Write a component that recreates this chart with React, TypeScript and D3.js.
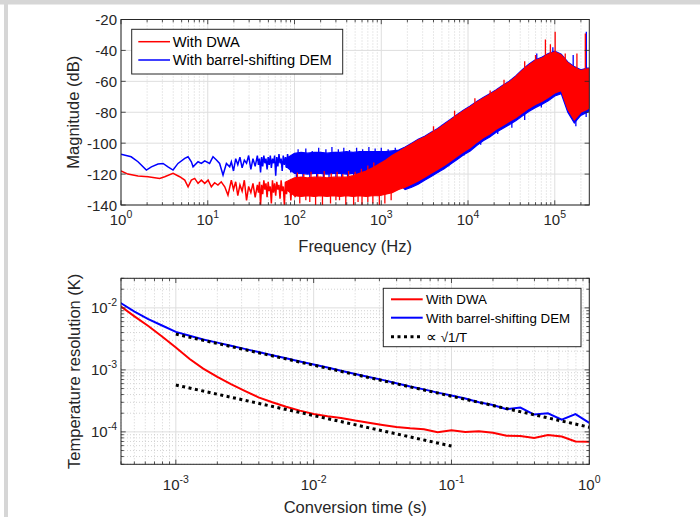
import React from "react";
import * as d3 from "d3";

// ---------- Top chart (spectrum) data ----------
const blueLowHz = [1, 1.31, 1.57, 1.96, 2.24, 2.67, 3.05, 3.48, 3.98, 4.54, 5.43, 5.93, 6.47, 6.77, 7.73, 8.44, 9.23, 10.5, 11.5, 12.6, 13.7, 15.0, 16.4, 17.9];
const blueLowDb = [-107.2, -108.8, -112.0, -117.4, -115.3, -113.5, -113.1, -115.3, -117.4, -113.1, -109.8, -108.8, -112.0, -115.3, -112.0, -113.1, -111.4, -113.1, -108.8, -110.9, -113.1, -120.6, -113.1, -115.3];
const redLowHz = [1, 1.2, 1.57, 2.05, 2.79, 3.19, 3.98, 4.75, 5.43, 5.93, 6.47, 7.07, 7.73, 8.44, 9.23, 10.1, 11.0, 12.0, 13.1, 14.3, 15.7, 17.1];
const redLowDb = [-117.9, -120, -121.3, -121.7, -122.8, -121.7, -119.5, -121.7, -123.9, -128.2, -123.9, -122.8, -126, -123.9, -126, -123.9, -128.2, -125.6, -127.1, -125, -128.2, -133.6];

const noiseHz = [18.7, 19.8, 21, 22.2, 23.5, 24.9, 26.4, 28, 29.6, 31.4, 33.2, 35.2, 37.3, 38.4, 39.5, 40.6, 41.8, 43, 44.3, 45.6, 46.9, 48.3, 49.7, 51.1, 52.6, 54.1, 55.7, 57.3, 59, 60.7, 62.5, 64.3, 66.2, 68.1, 70.1, 72.1, 74.2, 76.4, 78.6, 80.9, 83.2, 85.6, 88.1, 90.7, 93.3, 96, 98.8, 101.7, 104.6, 107.6, 110.8];
const blueNoiseDb = [-112, -118, -110, -114, -109, -116, -111, -113, -108, -117, -110, -115, -108, -114, -110, -119, -109, -115, -108, -113, -110, -117, -109, -114, -108, -116, -110, -113, -108, -121, -109, -115, -107, -113, -110, -118, -108, -114, -109, -116, -107, -112, -110, -119, -108, -114, -107, -117, -109, -115, -110];
const redNoiseDb = [-124, -130, -125, -134, -127, -131, -124, -137, -128, -132, -126, -135, -127, -132, -125, -140, -127, -133, -124, -130, -126, -135, -125, -131, -128, -139, -124, -132, -126, -134, -125, -130, -127, -136, -124, -131, -128, -140, -125, -133, -126, -131, -124, -137, -127, -132, -125, -135, -126, -131, -128];

// dense-noise envelope (upper / lower edge of the trace)
const bandHz = [80, 100, 119, 141, 168, 200, 237, 282, 335, 398, 473, 562, 668, 794, 944, 1122, 1334, 1585, 1884, 2239, 2661, 3162, 3758, 4467, 5309, 6310, 7499, 8913, 10593, 12589, 14962, 17783, 21135, 25119, 29854, 35481, 42170, 50119, 59566, 70795, 84140, 100000, 118850, 141254, 167880, 199526, 237137, 250000];
const redUpperDb = [-125, -122.5, -122, -122.5, -122, -122, -122.5, -122, -122, -122, -121, -119.5, -118, -116, -113.5, -111, -108, -105.5, -103, -100.5, -98, -96, -93.5, -91, -88, -85, -82, -79, -76.5, -73.5, -71, -68.5, -66, -63, -60.5, -57, -53, -49.5, -46.5, -45, -42.5, -41, -43, -48, -51, -53, -52, -52];
const redLowerDb = [-130, -134, -134.5, -134, -134.5, -134, -134.5, -134, -134.5, -134, -134.5, -134, -134.5, -134, -134, -133, -132, -130, -128.5, -126.5, -124.5, -122, -119.5, -117, -114.5, -111.5, -108.5, -105.5, -103, -99.5, -96.5, -94, -91, -88.5, -86, -83.5, -80.5, -77.5, -75, -73, -70.5, -67.5, -66, -78, -85, -80, -78, -77];
const blueUpperDb = [-110, -106.5, -106, -106.5, -106, -106, -106.5, -106, -106, -105.5, -106, -105.5, -105.5, -105.5, -105.5, -105.5, -105, -104.5, -102.5, -100, -97.5, -95.5, -93, -90.5, -87.5, -84.5, -81.5, -78.5, -76, -73, -70.5, -68, -65.5, -62.5, -60, -56.5, -52.5, -49, -46, -44.5, -42, -40.5, -42.5, -47.5, -50.5, -52.5, -51.5, -51.5];
const blueLowerDb = [-115, -119.5, -119.5, -120, -119.5, -119.5, -120, -119.5, -119.5, -120, -119.5, -119.5, -119.5, -119.5, -119.5, -119.5, -120, -126, -130, -128.5, -126.5, -124, -121.5, -119, -116.5, -113.5, -110.5, -107.5, -105, -101.5, -98.5, -96, -93, -90.5, -88, -85.5, -82.5, -79.5, -77, -75, -72.5, -69.5, -68, -80, -87, -82, -80, -79];

// individual noise excursions beyond the envelope
const blueSpikeUpHz = [110, 135, 160, 190, 230, 270, 320, 370, 430, 520, 610, 720, 850, 1000, 1200, 1450, 62000, 95000, 163000, 231000];
const blueSpikeUpDb = [-104, -103.5, -105, -103, -104, -102.5, -104, -103, -104.5, -103, -104, -102.5, -103.5, -103, -104, -103, -42, -38, -43, -28];
const blueSpikeDownHz = [105, 125, 150, 180, 215, 250, 300, 350, 410, 480, 560, 650, 760, 900, 1050, 3400, 4500, 6000, 9000, 14000, 22000, 32000, 45000, 70000, 175000, 230000];
const blueSpikeDownDb = [-123, -125, -122, -124, -123, -126, -122, -124, -123, -125, -122, -124, -123, -122, -121, -123, -119, -115, -108, -101, -94, -90, -85, -77, -89, -83];
const redSpikeUpHz = [108, 128, 155, 185, 220, 265, 310, 360, 420, 500, 590, 700, 820, 4000, 7000, 12000, 18000, 26000, 45000, 60000, 78000, 89000, 101000, 132000, 180000, 225000];
const redSpikeUpDb = [-119, -120, -118.5, -120, -118, -119.5, -118.5, -120, -118, -118.5, -116.5, -114.5, -112.5, -89, -79, -71, -66, -59, -47, -43, -33, -36, -28, -42, -42, -29];
const redSpikeDownHz = [115, 135, 150, 175, 210, 260, 300, 330, 390, 480, 540, 600, 700, 800, 950, 1100, 1300];
const redSpikeDownDb = [-139, -137, -138, -140, -140, -139, -137, -137, -140, -140, -138, -140, -138, -139, -140, -139, -137];

const topXTicks = [1, 10, 100, 1000, 10000, 100000];
const topXExp = ["0", "1", "2", "3", "4", "5"];
const topYTicks = [-140, -120, -100, -80, -60, -40, -20];

// ---------- Bottom chart (temperature resolution) data ----------
const convTime = [3.98e-4, 5.01e-4, 6.31e-4, 7.94e-4, 1e-3, 1.26e-3, 1.58e-3, 2.0e-3, 2.51e-3, 3.16e-3, 3.98e-3, 5.01e-3, 6.31e-3, 7.94e-3, 1e-2, 1.26e-2, 1.58e-2, 2.0e-2, 2.51e-2, 3.16e-2, 3.98e-2, 5.01e-2, 6.31e-2, 7.94e-2, 0.1, 0.126, 0.158, 0.2, 0.251, 0.316, 0.398, 0.501, 0.631, 0.794, 1];
const resBlue = [0.0120, 0.0087, 0.0066, 0.0052, 0.0041, 0.00355, 0.0031, 0.00275, 0.00245, 0.00218, 0.00194, 0.00172, 0.00154, 0.00137, 0.00122, 0.00109, 0.00097, 0.00086, 0.00077, 0.00069, 0.00061, 0.00054, 0.000485, 0.00043, 0.000385, 0.000345, 0.0003, 0.000272, 0.000232, 0.000247, 0.00019, 0.0002, 0.000158, 0.000193, 0.00014];
const resRed = [0.0106, 0.0073, 0.0051, 0.00345, 0.0023, 0.0015, 0.00105, 0.00077, 0.00059, 0.00046, 0.00036, 0.0003, 0.000255, 0.00022, 0.000195, 0.000178, 0.000168, 0.000152, 0.00014, 0.000129, 0.00012, 0.000114, 0.00011, 0.000099, 0.000106, 0.0001, 0.000102, 0.000097, 0.000087, 0.000086, 0.00008, 0.000089, 0.000084, 0.00007, 0.000069];
const fitUpperT = [1e-3, 1];
const fitUpperV = [3.77e-3, 1.19e-4];
const fitLowerT = [1e-3, 0.1];
const fitLowerV = [5.7e-4, 5.9e-5];

const botXTicks = [1e-3, 1e-2, 1e-1, 1];
const botXExp = ["-3", "-2", "-1", "0"];
const botYTicks = [1e-4, 1e-3, 1e-2];
const botYExp = ["-4", "-3", "-2"];

// ---------- styles ----------
const FONT = "'Liberation Sans', Arial, Helvetica, sans-serif";
const AX = "#262626";
const GRID = "#dedede";
const MINOR = "#c8c8c8";
const RED = "#ff0000";
const BLUE = "#0000ff";

const L = 121, R = 589.3;
const T1 = 19.5, B1 = 205;
const T2 = 278.3, B2 = 464.3;

const topX = d3.scaleLog().domain([1, 2.5e5]).range([L, R]);
const topY = d3.scaleLinear().domain([-140, -20]).range([B1, T1]);
const botX = d3.scaleLog().domain([4e-4, 1]).range([L, R]);
const botY = d3.scaleLog().domain([3e-5, 3e-2]).range([B2, T2]);

function minorLog(lo: number, hi: number): number[] {
  const out: number[] = [];
  for (let d = Math.floor(Math.log10(lo)) - 1; d <= Math.ceil(Math.log10(hi)); d++) {
    for (let m = 2; m <= 9; m++) {
      const v = m * Math.pow(10, d);
      if (v >= lo * 0.999 && v <= hi * 1.001) out.push(v);
    }
  }
  return out;
}

function interpLog(hz: number[], vals: number[], f: number): number {
  const lf = Math.log10(f);
  for (let i = 0; i < hz.length - 1; i++) {
    const a = Math.log10(hz[i]), b = Math.log10(hz[i + 1]);
    if (lf >= a && lf <= b) return vals[i] + (vals[i + 1] - vals[i]) * (lf - a) / (b - a);
  }
  return vals[vals.length - 1];
}

type P = [number, number];
const zip = (a: number[], b: number[]): P[] => a.map((v, i) => [v, b[i]] as P);

export default function App() {
  const topLine = d3.line<P>().x(d => topX(d[0])).y(d => topY(d[1]));
  const botLine = d3.line<P>().x(d => botX(d[0])).y(d => botY(d[1]));
  const band = (lo: number[], hi: number[]) =>
    d3.area<number>().x(d => topX(d)).y0((d, i) => topY(lo[i])).y1((d, i) => topY(hi[i]))(bandHz) || "";

  const blueSeries = [...zip(blueLowHz, blueLowDb), ...zip(noiseHz, blueNoiseDb)];
  const redSeries = [...zip(redLowHz, redLowDb), ...zip(noiseHz, redNoiseDb)];

  const topMinorX = minorLog(1, 2.5e5);
  const botMinorX = minorLog(4e-4, 1);
  const botMinorY = minorLog(3e-5, 3e-2);

  const spikes = (hz: number[], db: number[], lo: number[], hi: number[], color: string, key: string) =>
    hz.map((f, i) => {
      const mid = (interpLog(bandHz, lo, f) + interpLog(bandHz, hi, f)) / 2;
      return (
        <line key={key + i} x1={topX(f)} x2={topX(f)} y1={topY(mid)} y2={topY(db[i])} stroke={color} strokeWidth={1.3} />
      );
    });

  const tickMarks = (
    xs: number[], xScale: (v: number) => number, top: number, bottom: number, len: number, key: string
  ) =>
    xs.map((v, i) => (
      <g key={key + i}>
        <line x1={xScale(v)} x2={xScale(v)} y1={bottom} y2={bottom - len} stroke={AX} strokeWidth={0.8} />
        <line x1={xScale(v)} x2={xScale(v)} y1={top} y2={top + len} stroke={AX} strokeWidth={0.8} />
      </g>
    ));
  const yTickMarks = (ys: number[], yScale: (v: number) => number, len: number, key: string) =>
    ys.map((v, i) => (
      <g key={key + i}>
        <line x1={L} x2={L + len} y1={yScale(v)} y2={yScale(v)} stroke={AX} strokeWidth={0.8} />
        <line x1={R} x2={R - len} y1={yScale(v)} y2={yScale(v)} stroke={AX} strokeWidth={0.8} />
      </g>
    ));

  return (
    <svg width={700} height={517} style={{ position: "absolute", left: 0, top: 0, background: "#fff" }} fontFamily={FONT}>
      <defs>
        <clipPath id="clipTop"><rect x={L} y={T1} width={R - L} height={B1 - T1} /></clipPath>
        <clipPath id="clipBot"><rect x={L} y={T2} width={R - L} height={B2 - T2} /></clipPath>
      </defs>
      {/* page frame */}
      <rect x={0} y={0} width={700} height={4.5} fill="#d6d6d6" />
      <rect x={4} y={0} width={4} height={517} fill="#d6d6d6" />

      {/* ===== Top chart ===== */}
      <g>
        {topMinorX.map((v, i) => (
          <line key={"tmx" + i} x1={topX(v)} x2={topX(v)} y1={T1} y2={B1} stroke={MINOR} strokeWidth={0.8} strokeDasharray="1,2" />
        ))}
        {topXTicks.map((v, i) => (
          <line key={"tgx" + i} x1={topX(v)} x2={topX(v)} y1={T1} y2={B1} stroke={GRID} strokeWidth={1} />
        ))}
        {topYTicks.map((v, i) => (
          <line key={"tgy" + i} x1={L} x2={R} y1={topY(v)} y2={topY(v)} stroke={GRID} strokeWidth={1} />
        ))}
        <g clipPath="url(#clipTop)">
          <path d={band(blueLowerDb, blueUpperDb)} fill={BLUE} stroke={BLUE} strokeWidth={1.2} />
          <path d={topLine(blueSeries) || ""} fill="none" stroke={BLUE} strokeWidth={1.5} />
          {spikes(blueSpikeUpHz, blueSpikeUpDb, blueLowerDb, blueUpperDb, BLUE, "bsu")}
          {spikes(blueSpikeDownHz, blueSpikeDownDb, blueLowerDb, blueUpperDb, BLUE, "bsd")}
          <path d={band(redLowerDb, redUpperDb)} fill={RED} stroke={RED} strokeWidth={1.2} />
          <path d={topLine(redSeries) || ""} fill="none" stroke={RED} strokeWidth={1.5} />
          {spikes(redSpikeUpHz, redSpikeUpDb, redLowerDb, redUpperDb, RED, "rsu")}
          {spikes(redSpikeDownHz, redSpikeDownDb, redLowerDb, redUpperDb, RED, "rsd")}
        </g>
        {tickMarks(topXTicks, topX, T1, B1, 4.7, "tmk")}
        {tickMarks(topMinorX, topX, T1, B1, 2.8, "tmn")}
        {yTickMarks(topYTicks, topY, 4.7, "tyk")}
        <rect x={L} y={T1} width={R - L} height={B1 - T1} fill="none" stroke={AX} strokeWidth={1} />
        {topXTicks.map((v, i) => (
          <text key={"txl" + i} x={topX(v)} y={225} textAnchor="middle" fontSize={15} fill={AX}>
            <tspan>10</tspan><tspan fontSize={10.5} dy={-7}>{topXExp[i]}</tspan>
          </text>
        ))}
        {topYTicks.map((v, i) => (
          <text key={"tyl" + i} x={117} y={topY(v) + 5.5} textAnchor="end" fontSize={15} fill={AX}>{v}</text>
        ))}
        <text x={(L + R) / 2} y={252} textAnchor="middle" fontSize={16.5} fill={AX}>Frequency (Hz)</text>
        <text transform={`translate(78.5, ${(T1 + B1) / 2}) rotate(-90)`} textAnchor="middle" fontSize={16.5} fill={AX}>Magnitude (dB)</text>
        {/* legend */}
        <rect x={131.7} y={29.3} width={211} height={44.7} fill="#fff" stroke={AX} strokeWidth={1} />
        <line x1={138.3} x2={170} y1={41.7} y2={41.7} stroke={RED} strokeWidth={1.5} />
        <text x={172.7} y={47} fontSize={14.7} fill="#000">With DWA</text>
        <line x1={138.3} x2={170} y1={60} y2={60} stroke={BLUE} strokeWidth={1.5} />
        <text x={172.7} y={65.3} fontSize={14.7} fill="#000">With barrel-shifting DEM</text>
      </g>

      {/* ===== Bottom chart ===== */}
      <g>
        {botMinorX.map((v, i) => (
          <line key={"bmx" + i} x1={botX(v)} x2={botX(v)} y1={T2} y2={B2} stroke={MINOR} strokeWidth={0.8} strokeDasharray="1,2" />
        ))}
        {botMinorY.map((v, i) => (
          <line key={"bmy" + i} x1={L} x2={R} y1={botY(v)} y2={botY(v)} stroke={MINOR} strokeWidth={0.8} strokeDasharray="1,2" />
        ))}
        {botXTicks.map((v, i) => (
          <line key={"bgx" + i} x1={botX(v)} x2={botX(v)} y1={T2} y2={B2} stroke={GRID} strokeWidth={1} />
        ))}
        {botYTicks.map((v, i) => (
          <line key={"bgy" + i} x1={L} x2={R} y1={botY(v)} y2={botY(v)} stroke={GRID} strokeWidth={1} />
        ))}
        <g clipPath="url(#clipBot)">
          <path d={botLine(zip(convTime, resRed)) || ""} fill="none" stroke={RED} strokeWidth={2} />
          <path d={botLine(zip(convTime, resBlue)) || ""} fill="none" stroke={BLUE} strokeWidth={2} />
          <path d={botLine(zip(fitUpperT, fitUpperV)) || ""} fill="none" stroke="#000" strokeWidth={3} strokeDasharray="3,3.5" />
          <path d={botLine(zip(fitLowerT, fitLowerV)) || ""} fill="none" stroke="#000" strokeWidth={3} strokeDasharray="3,3.5" />
        </g>
        {tickMarks(botXTicks, botX, T2, B2, 4.7, "bmk")}
        {tickMarks(botMinorX, botX, T2, B2, 2.8, "bmn")}
        {yTickMarks(botYTicks, botY, 4.7, "byk")}
        {yTickMarks(botMinorY, botY, 2.8, "byn")}
        <rect x={L} y={T2} width={R - L} height={B2 - T2} fill="none" stroke={AX} strokeWidth={1} />
        {botXTicks.map((v, i) => (
          <text key={"bxl" + i} x={botX(v)} y={490} textAnchor="middle" fontSize={15} fill={AX}>
            <tspan>10</tspan><tspan fontSize={10.5} dy={-7}>{botXExp[i]}</tspan>
          </text>
        ))}
        {botYTicks.map((v, i) => (
          <text key={"byl" + i} x={117} y={botY(v) + 5.5} textAnchor="end" fontSize={15} fill={AX}>
            <tspan>10</tspan><tspan fontSize={10.5} dy={-7}>{botYExp[i]}</tspan>
          </text>
        ))}
        <text x={(L + R) / 2} y={512.5} textAnchor="middle" fontSize={16.5} fill={AX}>Conversion time (s)</text>
        <text transform={`translate(80, ${(T2 + B2) / 2}) rotate(-90)`} textAnchor="middle" fontSize={16.5} fill={AX}>Temperature resolution (K)</text>
        {/* legend */}
        <rect x={383.3} y={288.3} width={197.7} height={58.4} fill="#fff" stroke={AX} strokeWidth={1} />
        <line x1={391} x2={422.7} y1={299.3} y2={299.3} stroke={RED} strokeWidth={2} />
        <text x={426} y={304.3} fontSize={13.3} fill="#000">With DWA</text>
        <line x1={391} x2={422.7} y1={317.7} y2={317.7} stroke={BLUE} strokeWidth={2} />
        <text x={426} y={322.7} fontSize={13.3} fill="#000">With barrel-shifting DEM</text>
        <line x1={391} x2={422.7} y1={336.7} y2={336.7} stroke="#000" strokeWidth={3} strokeDasharray="3,3.5" />
        <text x={426} y={341.7} fontSize={13.3} fill="#000"><tspan fontSize={15}>∝</tspan> √1/T</text>
      </g>
    </svg>
  );
}
